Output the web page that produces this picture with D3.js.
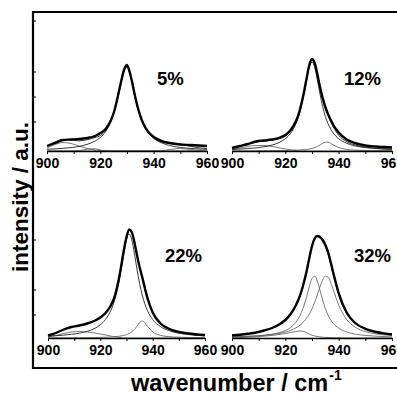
<!DOCTYPE html>
<html>
<head>
<meta charset="utf-8">
<script src="https://cdn.jsdelivr.net/npm/d3@7"></script>
<style>
  body { margin: 0; background: #fff; }
  svg { display: block; }
  text { font-family: "Liberation Sans", Arial, Helvetica, sans-serif; font-weight: bold; fill: #000; }
  .narrow { font-family: "Liberation Sans Narrow", "Arial Narrow", "Liberation Sans", Arial, sans-serif; }
</style>
</head>
<body>
<svg id="chart" width="397" height="394"></svg>
<script>
// Shared wavenumber grid (cm^-1), denser around the band maximum
const wavenumbers = [900, 903, 906, 909, 912, 915, 918, 920, 922, 924, 925, 926, 927, 928, 929, 930,
                     931, 932, 933, 934, 935, 936, 938, 940, 943, 946, 950, 954, 957, 960];
const tickValues = [900, 910, 920, 930, 940, 950, 960];
const labelledTicks = [900, 920, 940, 960];
const panelLabels = ["5%", "12%", "22%", "32%"];

// 5 % : measured spectrum, fitted envelope and fitted bands (arbitrary units)
const measured5 = [5, 8, 11, 11.5, 12, 13, 15, 18, 22, 31, 38, 48, 60, 72, 82, 86, 79, 68, 55, 44, 35, 28, 19, 14, 10, 8, 6.5, 6, 5.5, 5];
const fit5      = [5.5, 9, 11.5, 11, 10.2, 11.3, 13.5, 15.5, 20.5, 30.2, 37.8, 47.6, 59.3, 71.8, 81.5, 84.3, 78.2, 66.9, 54.3, 43.3, 34.4, 27.6, 18.5, 13.1, 8.8, 7.4, 6.5, 4.6, 3.2, 2.5];
const band5main = [1.7, 2.1, 2.7, 3.4, 4.6, 6.6, 9.9, 13.5, 19.5, 29.8, 37.4, 47.2, 59, 71.5, 81.2, 84, 77.9, 66.6, 54, 43, 34.1, 27.3, 18.1, 12.7, 8.1, 5.5, 3.6, 2.6, 2.0, 1.7];
const band5low  = [3, 6.5, 8.5, 7.5, 5, 2.6, 1, 0.5, 0.2, 0, 0, 0, 0, 0, 0, 0, 0, 0, 0, 0, 0, 0, 0, 0, 0, 0, 0, 0, 0, 0];
const band5mid  = [0, 0, 0, 0, 0.3, 1.8, 2.2, 1.0, 0.3, 0, 0, 0, 0, 0, 0, 0, 0, 0, 0, 0, 0, 0, 0, 0, 0, 0, 0, 0, 0, 0];
const band5high = [0, 0, 0, 0, 0, 0, 0, 0, 0, 0, 0, 0, 0, 0, 0, 0, 0, 0, 0, 0, 0, 0, 0, 0, 0.3, 1.5, 2.5, 1.5, 0.6, 0.2];

// 12 %
const measured12 = [3, 5, 7, 9.5, 10.5, 11.5, 13.5, 16, 21, 30, 37, 47, 59, 73, 86, 92, 88, 77, 64, 53, 44, 37, 26, 18.5, 11.5, 8, 5.5, 4.5, 4, 3.5];
const fit12      = [3.3, 5.1, 7.1, 8.9, 10, 10.8, 12.4, 14.8, 19.6, 28.8, 36, 45.8, 58.4, 72.8, 85.8, 91.6, 87.2, 75.7, 63, 52.1, 43.5, 36.2, 23.8, 15.7, 9.3, 6.1, 3.9, 2.8, 2.2, 1.8];
const band12main = [1.6, 1.9, 2.4, 3.1, 4.2, 5.9, 8.9, 12.3, 17.8, 27.4, 34.7, 44.5, 57, 71.2, 83.8, 89, 83.8, 71.2, 57, 44.5, 34.7, 27.4, 17.8, 12.3, 7.7, 5.2, 3.4, 2.4, 1.9, 1.6];
const band12high = [0.2, 0.2, 0.2, 0.3, 0.3, 0.4, 0.5, 0.5, 0.6, 0.8, 0.9, 1.1, 1.3, 1.6, 2.0, 2.6, 3.4, 4.5, 6.0, 7.6, 8.8, 8.8, 6.0, 3.4, 1.6, 0.9, 0.5, 0.35, 0.25, 0.2];
const band12low  = [1.5, 3, 4.5, 5.5, 5.5, 4.5, 3, 2, 1.2, 0.6, 0.4, 0.2, 0.1, 0, 0, 0, 0, 0, 0, 0, 0, 0, 0, 0, 0, 0, 0, 0, 0, 0];

// 22 %
const measured22 = [2.5, 5, 8.5, 11, 12.5, 14.5, 17.5, 20.5, 25, 32.5, 38, 46.5, 58, 72.5, 88, 101, 108.5, 106, 96, 83, 71, 61, 40, 25.5, 14.5, 9.5, 6, 4.5, 3.5, 3];
const band22main = [1.9, 2.3, 2.9, 3.7, 4.8, 6.7, 9.8, 13.2, 18.6, 27.5, 34.2, 43, 54.5, 68.9, 84.8, 98.4, 104, 98.4, 84.8, 68.9, 54.5, 43, 27.5, 18.6, 11.4, 7.6, 4.8, 3.35, 2.6, 2.1];
const band22high = [0.2, 0.2, 0.2, 0.2, 0.25, 0.35, 0.45, 0.6, 0.75, 1.0, 1.2, 1.4, 1.7, 2.1, 2.6, 3.4, 4.5, 6.1, 8.5, 11.8, 15.3, 17, 11.8, 6.1, 2.6, 1.4, 0.8, 0.45, 0.35, 0.3];
const band22low  = [1, 2.5, 4.5, 6, 6.5, 6, 5, 4, 3, 2, 1.5, 1, 0.6, 0.3, 0.1, 0, 0, 0, 0, 0, 0, 0, 0, 0, 0, 0, 0, 0, 0, 0];

// 32 %
const measured32 = [2.5, 3.3, 4.3, 5.5, 7.5, 10, 14, 18, 24, 33, 39, 46.5, 56, 67, 80, 92, 99.5, 102, 101, 98, 93, 86, 65, 45, 25.5, 15.5, 9.2, 6, 4.6, 3.6];
const fit32      = [2.55, 3.2, 4.1, 5.4, 7.2, 9.9, 13.9, 18, 23.8, 32.6, 38.7, 46.3, 55.6, 66.6, 79.3, 91.6, 99.4, 101.6, 99.9, 96.7, 91.9, 84.3, 62.9, 43, 24.5, 15.1, 9, 5.9, 4.5, 3.6];
const band32a    = [1.03, 1.26, 1.57, 2.02, 2.68, 3.73, 5.52, 7.48, 10.6, 15.9, 20, 25.4, 32.6, 41.6, 51.6, 59.6, 61.8, 56.9, 47.6, 37.8, 29.5, 23, 14.6, 9.9, 6.0, 4.0, 2.6, 1.8, 1.41, 1.14];
const band32b    = [1.22, 1.45, 1.76, 2.16, 2.73, 3.54, 4.77, 5.98, 7.67, 10.2, 11.8, 13.9, 16.5, 19.8, 23.9, 29.2, 35.6, 43.2, 51.2, 58.1, 61.8, 60.8, 48, 32.9, 18.4, 11.1, 6.4, 4.13, 3.13, 2.44];
const band32c    = [0.3, 0.5, 0.8, 1.2, 1.8, 2.6, 3.6, 4.5, 5.5, 6.5, 6.9, 7, 6.5, 5.2, 3.8, 2.8, 2, 1.5, 1.1, 0.8, 0.6, 0.5, 0.3, 0.2, 0.1, 0, 0, 0, 0, 0];

// Layout of the four sub-plots inside the common frame
const panels = [
  { label: panelLabels[0], measured: measured5,  fit: fit5,  bands: [band5low, band5mid, band5high], mainBand: band5main,
    x0: 47,  x1: 207, axisY: 151, labelX: 157, labelY: 85 },
  { label: panelLabels[1], measured: measured12, fit: fit12, bands: [band12low, band12high], mainBand: band12main,
    x0: 232, x1: 392, axisY: 151, labelX: 344, labelY: 85 },
  { label: panelLabels[2], measured: measured22, fit: null,  bands: [band22low, band22high], mainBand: band22main,
    x0: 48,  x1: 205, axisY: 338, labelX: 165, labelY: 262 },
  { label: panelLabels[3], measured: measured32, fit: fit32, bands: [band32c, band32a, band32b], mainBand: null,
    x0: 232, x1: 392, axisY: 338, labelX: 354, labelY: 262 }
];

const svg = d3.select("#chart");
svg.append("rect").attr("width", 397).attr("height", 394).attr("fill", "#fff");

// Outer frame (open on the right)
svg.append("path")
  .attr("d", "M397,12 H33 V368 H397")
  .attr("fill", "none").attr("stroke", "#000").attr("stroke-width", 2.2);

// small ticks along the inner side of the left frame edge
const frameTicks = [21, 72, 97, 122, 240, 290, 315];
svg.selectAll("line.frametick").data(frameTicks).enter().append("line")
  .attr("x1", 34).attr("x2", 36).attr("y1", d => d).attr("y2", d => d)
  .attr("stroke", "#000").attr("stroke-width", 1);

panels.forEach(p => {
  const x = d3.scaleLinear().domain([900, 960]).range([p.x0, p.x1]);
  const y = d3.scaleLinear().domain([0, 100]).range([p.axisY, p.axisY - 100]);
  const g = svg.append("g");

  const line = d3.line()
    .x((d, i) => x(wavenumbers[i]))
    .y(d => y(d))
    .curve(d3.curveMonotoneX);

  // fitted bands
  p.bands.forEach(b => {
    g.append("path").attr("d", line(b))
      .attr("fill", "none").attr("stroke", "#555").attr("stroke-width", 0.8);
  });
  if (p.mainBand) {
    g.append("path").attr("d", line(p.mainBand))
      .attr("fill", "none").attr("stroke", "#222").attr("stroke-width", 0.9);
  }
  // fitted envelope
  if (p.fit) {
    g.append("path").attr("d", line(p.fit))
      .attr("fill", "none").attr("stroke", "#222").attr("stroke-width", 0.9);
  }
  // measured spectrum
  g.append("path").attr("d", line(p.measured))
    .attr("fill", "none").attr("stroke", "#000").attr("stroke-width", 2.4)
    .attr("stroke-linejoin", "round");

  // x axis
  const axis = d3.axisBottom(x)
    .tickValues(tickValues)
    .tickSize(3)
    .tickSizeOuter(0)
    .tickPadding(4)
    .tickFormat(d => labelledTicks.includes(d) ? d3.format("d")(d) : "");
  const ag = g.append("g").attr("transform", `translate(0,${p.axisY})`).call(axis);
  ag.select(".domain").attr("stroke", "#000").attr("stroke-width", 1.6);
  ag.selectAll(".tick line").attr("stroke", "#000").attr("stroke-width", 1);
  ag.selectAll(".tick text")
    .attr("class", "narrow")
    .attr("font-family", null)
    .style("font-weight", "bold")
    .style("font-size", "14px")
    .attr("fill", "#000");

  // concentration label
  g.append("text")
    .attr("class", "narrow")
    .attr("x", p.labelX).attr("y", p.labelY)
    .style("font-size", "18.5px")
    .text(p.label);
});

// axis titles
svg.append("text")
  .attr("transform", "translate(28,197) rotate(-90)")
  .attr("text-anchor", "middle")
  .style("font-size", "22.5px")
  .text("intensity / a.u.");

const xt = svg.append("text")
  .attr("x", 131).attr("y", 391)
  .style("font-size", "23.5px");
xt.append("tspan").text("wavenumber / cm");
xt.append("tspan").attr("dy", -11).attr("dx", 1).style("font-size", "14px").text("-1");
</script>
</body>
</html>
